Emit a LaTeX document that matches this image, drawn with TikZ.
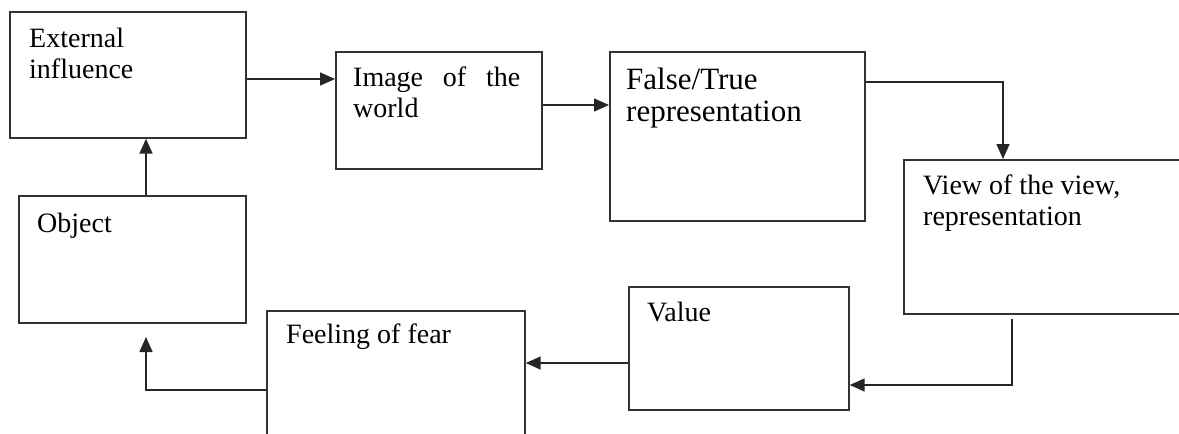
\documentclass[tikz,border=0pt]{standalone}
\usepackage{fontspec}
\setmainfont{Liberation Serif}
\usetikzlibrary{arrows.meta}
\begin{document}
\begin{tikzpicture}[x=1pt,y=-1pt,
  box/.style={draw=black!80,line width=1.7pt,rectangle,inner sep=0pt,anchor=north west},
  lbl/.style={anchor=base west,inner sep=0pt,align=left,font=\fontsize{28}{31}\selectfont},
  biglbl/.style={lbl,font=\fontsize{31}{32}\selectfont},
  link/.style={draw=black!85,line width=1.6pt},
  arr/.style={link,-{Triangle[length=15pt,width=13pt]}}]
\useasboundingbox (0,0) rectangle (1179,434);
\clip (0,0) rectangle (1179,434);
% boxes
\node[box,minimum width=236pt,minimum height=126pt] (ei) at (9,11) {};
\node[box,minimum width=206pt,minimum height=117pt] (iw) at (335,51) {};
\node[box,minimum width=255pt,minimum height=169pt] (ft) at (609,51) {};
\node[box,minimum width=300pt,minimum height=154pt] (vw) at (903,159) {};
\node[box,minimum width=227pt,minimum height=127pt] (ob) at (18,195) {};
\node[box,minimum width=258pt,minimum height=160pt] (ff) at (266,310) {};
\node[box,minimum width=220pt,minimum height=123pt] (va) at (628,286) {};
% labels (base anchor = last line baseline)
\node[lbl] (eit) at (29,78) {External\\influence};
\node[lbl] (iwt) at (353,117) {\makebox[167pt][s]{Image\hfill of\hfill the}\\world};
\node[biglbl] (ftt) at (626,121) {False/True\\representation};
\node[lbl] (vwt) at (923,225) {View of the view,\\representation};
\node[lbl] (obt) at (37,232) {Object};
\node[lbl] (fft) at (286,343) {Feeling of fear};
\node[lbl] (vat) at (647,321) {Value};
% connector helper coordinates
\coordinate (c1) at (1003,82);
\coordinate (c2s) at (1012,319);
\coordinate (c2) at (1012,385);
\coordinate (c3) at (146,390);
\coordinate (c3e) at (146,337);
% connectors
\draw[arr] (ei.east |- 0,79) -- (iw.west |- 0,79);
\draw[arr] (iw.east |- 0,105) -- (ft.west |- 0,105);
\draw[arr] (ft.east |- c1) -- (c1) -- (c1 |- vw.north);
\draw[arr] (c2s) -- (c2) -- (va.east |- c2);
\draw[arr] (va.west |- 0,363) -- (ff.east |- 0,363);
\draw[arr] (ff.west |- c3) -- (c3) -- (c3e);
\draw[arr] (ob.north -| c3) -- (ei.south -| c3);
\end{tikzpicture}
\end{document}
